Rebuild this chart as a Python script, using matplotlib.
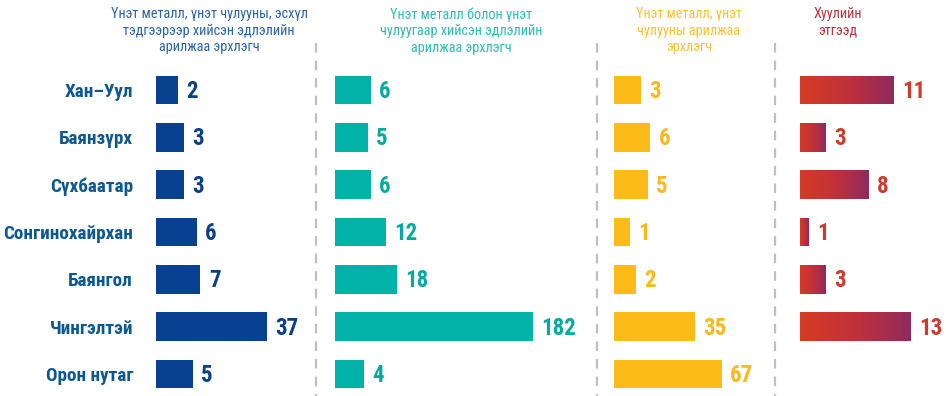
import numpy as np
import matplotlib
matplotlib.use('Agg')
import matplotlib.pyplot as plt
from matplotlib import font_manager
from matplotlib.font_manager import FontProperties
from matplotlib.lines import Line2D
from matplotlib.colors import LinearSegmentedColormap

# ---------------- data ----------------
categories = ['Хан–Уул', 'Баянзүрх', 'Сүхбаатар', 'Сонгинохайрхан',
              'Баянгол', 'Чингэлтэй', 'Орон нутаг']
jewelry_makers = [2, 3, 3, 6, 7, 37, 5]
jewelry_products_traders = [6, 5, 6, 12, 18, 182, 4]
jewelry_stone_traders = [3, 6, 5, 1, 2, 35, 67]
legal_entities = [11, 3, 8, 1, 3, 13, None]

titles = ['Үнэт металл, үнэт чулууны, эсхүл\nтэдгээрээр хийсэн эдлэлийн\nарилжаа эрхлэгч',
          'Үнэт металл болон үнэт\nчулуугаар хийсэн эдлэлийн\nарилжаа эрхлэгч',
          'Үнэт металл, үнэт\nчулууны арилжаа\nэрхлэгч',
          'Хуулийн\nэтгээд']


def pick_font(names):
    for n in names:
        try:
            font_manager.findfont(FontProperties(family=n), fallback_to_default=False)
            return n
        except Exception:
            pass
    return 'DejaVu Sans'


FONT = pick_font(['Roboto Condensed', 'Fira Sans Condensed', 'IBM Plex Sans Condensed', 'Liberation Sans'])
plt.rcParams['font.family'] = [FONT, 'DejaVu Sans']

W_PX, H_PX = 946, 396
DPI = 100
fig = plt.figure(figsize=(W_PX / DPI, H_PX / DPI), dpi=DPI)

ROW0 = 90.0
ROW_STEP = 47.33
N = len(categories)
top_px = ROW0 - ROW_STEP / 2
bot_px = ROW0 + (N - 1) * ROW_STEP + ROW_STEP / 2


def add_ax(x0, width):
    return fig.add_axes([x0 / W_PX, 1 - bot_px / H_PX, width / W_PX, (bot_px - top_px) / H_PX])


panels = [
    dict(vals=jewelry_makers, x0=156, width=150, p=0.55, target=111,
         bar='#07418f', txt='#0b3f88', title_c='#2b64a8', title_x=209),
    dict(vals=jewelry_products_traders, x0=335, width=240, p=0.5, target=198,
         bar='#00b2a7', txt='#05aaa0', title_c='#2ebdb2', title_x=461),
    dict(vals=jewelry_stone_traders, x0=614, width=150, p=0.45, target=108,
         bar='#fdbb18', txt='#fbb818', title_c='#fcc22e', title_x=689),
    dict(vals=legal_entities, x0=800, width=140, p=1.0, target=111,
         bar=None, txt='#cf3a2c', title_c='#b8343f', title_x=838),
]

grad_cmap = LinearSegmentedColormap.from_list('rg', ['#d53b24', '#c2313a', '#8f2a5e'])
BAR_H = 0.61

for k, pnl in enumerate(panels):
    ax = add_ax(pnl['x0'], pnl['width'])
    p = pnl['p']
    vals = [v for v in pnl['vals'] if v is not None]
    vmax = max(vals)
    xmax = vmax * (pnl['width'] / pnl['target']) ** (1.0 / p)
    if p != 1.0:
        ax.set_xscale('function', functions=(lambda x, p=p: np.power(np.clip(x, 0, None), p),
                                             lambda x, p=p: np.power(np.clip(x, 0, None), 1.0 / p)))
    ax.set_xlim(0, xmax)
    ax.set_ylim(N - 0.5, -0.5)
    ax.axis('off')

    ys = [i for i, v in enumerate(pnl['vals']) if v is not None]
    vs = [v for v in pnl['vals'] if v is not None]
    if pnl['bar'] is not None:
        ax.barh(ys, vs, height=BAR_H, color=pnl['bar'], edgecolor='none')
    else:
        bars = ax.barh(ys, vs, height=BAR_H, color='#c4303a', edgecolor='none')
        grad = np.linspace(0, 1, 256).reshape(1, -1)
        for b, yy, vv in zip(bars, ys, vs):
            im = ax.imshow(grad, cmap=grad_cmap, aspect='auto',
                           extent=(0, vv, yy + BAR_H / 2, yy - BAR_H / 2),
                           interpolation='bilinear', zorder=3)
            im.set_clip_path(b)
        ax.set_xlim(0, xmax)
        ax.set_ylim(N - 0.5, -0.5)
    for yy, vv in zip(ys, vs):
        ax.annotate(str(vv), xy=(vv, yy), xytext=(6, -1.2), textcoords='offset points',
                    ha='left', va='center', fontsize=16.5, fontweight='bold',
                    color=pnl['txt'])

    fig.text(pnl['title_x'] / W_PX, 1 - 7 / H_PX, titles[k], ha='center', va='top',
             fontsize=10.3, color=pnl['title_c'], linespacing=1.25)

# category labels
for i, c in enumerate(categories):
    fig.text(133 / W_PX, 1 - (ROW0 + i * ROW_STEP + 2) / H_PX, c, ha='right', va='center',
             fontsize=13.8, fontweight='bold', color='#0c5891')

# dashed separators
for xs in (315.5, 597, 775):
    ln = Line2D([xs / W_PX, xs / W_PX], [1 - 43 / H_PX, 0], transform=fig.transFigure,
                color='#bfbfbf', lw=1.6, linestyle=(0, (4.3, 3.6)))
    fig.add_artist(ln)

fig.savefig('out.png', dpi=DPI, facecolor='white')
